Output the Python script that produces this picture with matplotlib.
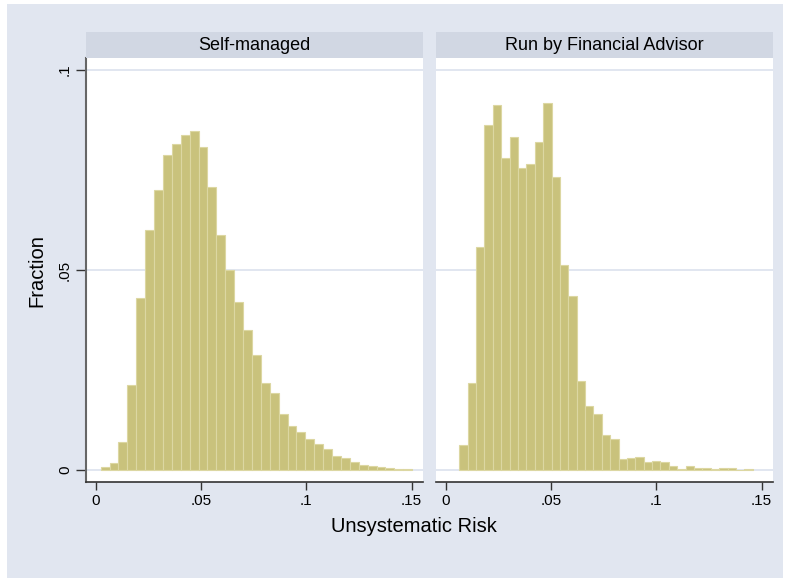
import numpy as np
import matplotlib
matplotlib.use("Agg")
from matplotlib import pyplot as plt
from matplotlib.patches import Rectangle

# histogram data (fraction per bin)
self_start, self_width = 0.00223, 0.00423
self_frac = [0.0007, 0.0017, 0.0069, 0.0213, 0.0431, 0.0601, 0.0699, 0.0788, 0.0816,
             0.0838, 0.0847, 0.0808, 0.0707, 0.0588, 0.0500, 0.0421, 0.0349, 0.0287,
             0.0217, 0.0192, 0.0140, 0.0110, 0.0094, 0.0077, 0.0065, 0.0053, 0.0035,
             0.0029, 0.0020, 0.0013, 0.0009, 0.0007, 0.0004, 0.0003, 0.0003]

fa_start, fa_width = 0.00632, 0.003985
fa_frac = [0.0063, 0.0217, 0.0557, 0.0863, 0.0913, 0.0779, 0.0833, 0.0755, 0.0764,
           0.0820, 0.0918, 0.0733, 0.0513, 0.0434, 0.0222, 0.0160, 0.0141, 0.0087,
           0.0078, 0.0027, 0.0031, 0.0033, 0.0019, 0.0023, 0.0019, 0.0011, 0.0003,
           0.0009, 0.0006, 0.0005, 0.0003, 0.0006, 0.0006, 0.0, 0.0003]

panels = ["Self-managed", "Run by Financial Advisor"]
x_ticks = [0, 0.05, 0.1, 0.15]
x_labels = ["0", ".05", ".1", ".15"]
y_ticks = [0, 0.05, 0.1]
y_labels = ["0", ".05", ".1"]

BG = "#e1e6f0"
STRIP = "#d1d7e3"
BAR = "#c9c27c"
BAR_EDGE = "#dcd7a2"
GRID = "#dce2ee"

plt.rcParams["font.family"] = ["Liberation Sans", "DejaVu Sans"]

fig = plt.figure(figsize=(7.87, 5.80), dpi=100)
fig.patches.append(Rectangle((7 / 787, 2 / 580), 776 / 787, 574 / 580,
                             transform=fig.transFigure, facecolor=BG,
                             edgecolor="none", zorder=-10))

data = [(self_start, self_width, self_frac), (fa_start, fa_width, fa_frac)]
lefts = [86 / 787, 436 / 787]
w = 336.7 / 787
bottom = (580 - 481.7) / 580
h = (481.7 - 58) / 580

for i, (start, width, frac) in enumerate(data):
    ax = fig.add_axes([lefts[i], bottom, w, h])
    edges = start + width * np.arange(len(frac))
    ax.bar(edges, frac, width=width, align="edge", color=BAR,
           edgecolor=BAR_EDGE, linewidth=0.8, zorder=3)
    ax.set_xlim(-0.00475, 0.1553)
    ax.set_ylim(-0.00293, 0.103)
    ax.set_yticks(y_ticks)
    for yv in y_ticks:
        ax.axhline(yv, color=GRID, linewidth=1.2, zorder=1)
    ax.set_xticks(x_ticks)
    ax.set_xticklabels(x_labels, fontsize=11)
    ax.tick_params(axis="x", length=6, width=1, color="#333333", pad=3)
    for s in ["top", "right"]:
        ax.spines[s].set_visible(False)
    ax.spines["bottom"].set_color("#333333")
    ax.spines["bottom"].set_linewidth(1.2)
    if i == 0:
        ax.set_yticklabels(y_labels, fontsize=11, rotation=90, va="center")
        ax.tick_params(axis="y", length=7, width=1, color="#333333", pad=3)
        ax.spines["left"].set_color("#666666")
        ax.spines["left"].set_linewidth(1.5)
    else:
        ax.spines["left"].set_visible(False)
        ax.tick_params(axis="y", left=False, labelleft=False)

    sx = fig.add_axes([lefts[i], (580 - 58) / 580, w, 25.7 / 580])
    sx.set_facecolor(STRIP)
    sx.set_xticks([])
    sx.set_yticks([])
    for s in sx.spines.values():
        s.set_visible(False)
    sx.text(0.5, 0.5, panels[i], ha="center", va="center", fontsize=13,
            transform=sx.transAxes)

fig.text(414 / 787, 1 - 526 / 580, "Unsystematic Risk", ha="center", va="center",
         fontsize=14.5)
fig.text(37 / 787, 1 - 271 / 580, "Fraction", ha="center", va="center",
         rotation=90, fontsize=14.5)

fig.savefig("out.png", dpi=100, facecolor="white")
